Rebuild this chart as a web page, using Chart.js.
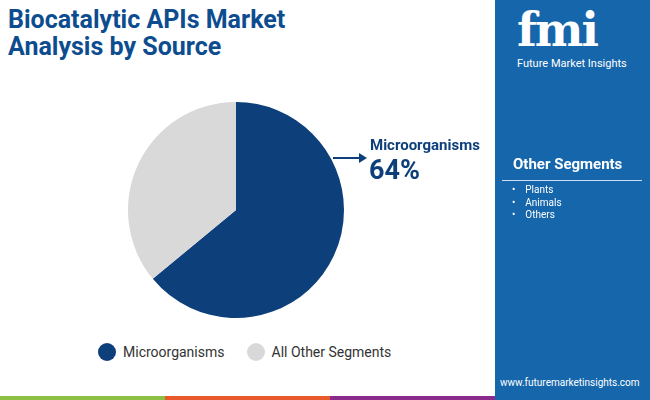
<!DOCTYPE html>
<html><head><meta charset="utf-8">
<script src="https://cdn.jsdelivr.net/npm/chart.js@4"></script>
<style>
body{margin:0;width:650px;height:400px;position:relative;overflow:hidden;background:#fff;font-family:Roboto,sans-serif}
.t{position:absolute;left:8px;top:6px;font-weight:700;font-size:25px;line-height:27px;color:#0d4d8f}
#side{position:absolute;left:495px;top:0;width:155px;height:400px;background:#1666ab;color:#fff}
.strip{position:absolute;top:396px;height:4px}
</style></head><body>
<div class="t">Biocatalytic APIs Market<br>Analysis by Source</div>
<div style="position:absolute;left:128px;top:102px;width:216px;height:216px"><canvas id="pChart"></canvas></div>
<div style="position:absolute;left:333px;top:157px;width:28px;height:2px;background:#0d3f7a"></div>
<div style="position:absolute;left:359px;top:153px;width:0;height:0;border-top:5px solid transparent;border-bottom:5px solid transparent;border-left:8px solid #0d3f7a"></div>
<div style="position:absolute;left:370px;top:136px;font-weight:700;font-size:15px;color:#0d3f7a">Microorganisms</div>
<div style="position:absolute;left:369px;top:154px;font-weight:700;font-size:27px;color:#0d3f7a">64%</div>
<div style="position:absolute;left:98px;top:343px;font-size:14px;color:#333;display:flex;align-items:center">
<span style="width:18px;height:18px;border-radius:50%;background:#0d3f7a;display:inline-block;margin-right:7px"></span>Microorganisms
<span style="width:18px;height:18px;border-radius:50%;background:#d9d9d9;display:inline-block;margin:0 7px 0 22px"></span>All Other Segments</div>
<div id="side">
<div style="position:absolute;left:22px;top:6px;font:900 46px/48px 'DejaVu Serif',serif;letter-spacing:-2px">fmi</div>
<div style="position:absolute;left:22px;top:57px;font-size:11px">Future Market Insights</div>
<div style="position:absolute;left:18px;top:155px;font-weight:700;font-size:15px">Other Segments</div>
<div style="position:absolute;left:7px;top:180px;width:140px;height:1px;background:#cfe0f0"></div>
<div style="position:absolute;left:17px;top:184px;font-size:10px;line-height:12.5px">•&nbsp;&nbsp;&nbsp;&nbsp;Plants<br>•&nbsp;&nbsp;&nbsp;&nbsp;Animals<br>•&nbsp;&nbsp;&nbsp;&nbsp;Others</div>
<div style="position:absolute;left:5px;top:377px;font-size:10px">www.futuremarketinsights.com</div>
</div>
<div class="strip" style="left:0;width:165px;background:#8cc043"></div>
<div class="strip" style="left:165px;width:165px;background:#e8592b"></div>
<div class="strip" style="left:330px;width:165px;background:#8a2a8a"></div>
<script>
const labels = ['Microorganisms', 'All Other Segments'];
const shares = [64, 36];
const colors = ['#0d3f7a', '#d9d9d9'];
new Chart(document.getElementById('pChart'), {
  type: 'pie',
  data: { labels: labels, datasets: [{ data: shares, backgroundColor: colors, borderWidth: 0 }] },
  options: { responsive: true, maintainAspectRatio: false, animation: false,
    plugins: { legend: { display: false }, tooltip: { enabled: false } } }
});
</script>
</body></html>
